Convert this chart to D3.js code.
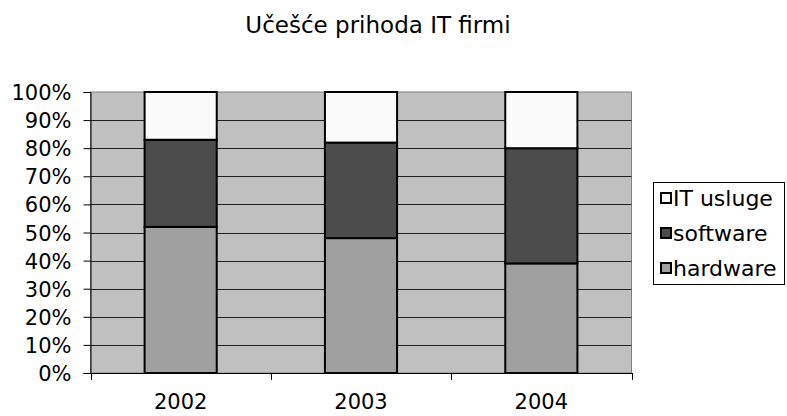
<!DOCTYPE html>
<html>
<head>
<meta charset="utf-8">
<script src="https://cdn.jsdelivr.net/npm/d3@7"></script>
<style>
  body { margin: 0; background: #fff; }
  text { font-family: "DejaVu Sans", Verdana, sans-serif; fill: #000; }
</style>
</head>
<body>
<div id="chart"></div>
<script>
const years = ["2002", "2003", "2004"];
const hardware = [52, 48, 39];
const software = [31, 34, 41];
const itUsluge = [17, 18, 20];
const seriesNames = ["hardware", "software", "IT usluge"];
const seriesColors = ["#a0a0a0", "#4c4c4c", "#fafafa"];
const yTicks = [0, 10, 20, 30, 40, 50, 60, 70, 80, 90, 100];

const svg = d3.select("#chart")
  .append("svg")
  .attr("width", 787)
  .attr("height", 416);

const plotLeft = 90.5, plotRight = 631.5, plotTop = 92, plotBottom = 373;

// tabela za stack
const table = years.map((y, i) => ({
  year: y,
  "hardware": hardware[i],
  "software": software[i],
  "IT usluge": itUsluge[i]
}));
const stacked = d3.stack().keys(seriesNames)(table);

const x = d3.scaleBand()
  .domain(years)
  .range([plotLeft, plotRight])
  .paddingInner(0.6)
  .paddingOuter(0.3);

const y = d3.scaleLinear()
  .domain([0, 100])
  .range([plotBottom, plotTop]);

// pozadina
svg.append("rect")
  .attr("x", plotLeft)
  .attr("y", plotTop)
  .attr("width", plotRight - plotLeft)
  .attr("height", plotBottom - plotTop)
  .attr("fill", "#c0c0c0")
  .attr("stroke", "#808080")
  .attr("stroke-width", 1);

// linije mreže
svg.selectAll("line.hgrid")
  .data(yTicks.slice(1, -1))
  .enter()
  .append("line")
  .attr("class", "hgrid")
  .attr("x1", plotLeft)
  .attr("x2", plotRight)
  .attr("y1", d => Math.round(y(d)) + 0.5)
  .attr("y2", d => Math.round(y(d)) + 0.5)
  .style("stroke", "#202020")
  .style("stroke-width", 1);

// stubovi
stacked.forEach((s, k) => {
  svg.selectAll("rect.s" + k)
    .data(s)
    .enter()
    .append("rect")
    .attr("class", "s" + k)
    .attr("x", d => x(d.data.year))
    .attr("width", x.bandwidth())
    .attr("y", d => y(d[1]))
    .attr("height", d => y(d[0]) - y(d[1]))
    .attr("fill", seriesColors[k])
    .attr("stroke", "#000")
    .attr("stroke-width", 2);
});

// y osa
const yAxis = d3.axisLeft(y)
  .tickValues(yTicks)
  .tickSize(7)
  .tickFormat(d => d + "%");
const gy = svg.append("g")
  .attr("transform", `translate(${plotLeft}, 0)`)
  .call(yAxis);
gy.select(".domain").attr("stroke", "#000");
gy.selectAll("text").style("font-size", "21px").attr("x", -19).attr("dy", "0.36em");

// x osa
const xAxis = d3.axisBottom(x).tickSize(0).tickPadding(21);
const gx = svg.append("g")
  .attr("transform", `translate(0, ${plotBottom})`)
  .call(xAxis);
gx.select(".domain").attr("stroke", "#000");
gx.selectAll("text").style("font-size", "21px");

// crtice između kategorija
const bounds = [plotLeft, ...years.slice(1).map(d => x(d) - x.step() * x.paddingInner() / 2), plotRight];
svg.selectAll("line.xtick")
  .data(bounds)
  .enter()
  .append("line")
  .attr("class", "xtick")
  .attr("x1", d => Math.round(d) + 0.5)
  .attr("x2", d => Math.round(d) + 0.5)
  .attr("y1", plotBottom)
  .attr("y2", plotBottom + 7)
  .style("stroke", "#000");

// naslov
svg.append("text")
  .attr("x", 378)
  .attr("y", 33)
  .attr("text-anchor", "middle")
  .style("font-size", "23px")
  .text("Učešće prihoda IT firmi");

// legenda
const legend = svg.append("g");
legend.append("rect")
  .attr("x", 653.5)
  .attr("y", 182.5)
  .attr("width", 131)
  .attr("height", 102)
  .attr("fill", "#fff")
  .attr("stroke", "#000");

const legendOrder = [2, 1, 0];
legendOrder.forEach((k, i) => {
  const cy = 198 + i * 35;
  legend.append("rect")
    .attr("x", 661)
    .attr("y", cy - 5)
    .attr("width", 10)
    .attr("height", 10)
    .attr("fill", seriesColors[k])
    .attr("stroke", "#000")
    .attr("stroke-width", 2);
  legend.append("text")
    .attr("x", 673)
    .attr("y", cy)
    .attr("dy", "0.36em")
    .style("font-size", "22px")
    .text(seriesNames[k]);
});
</script>
</body>
</html>
